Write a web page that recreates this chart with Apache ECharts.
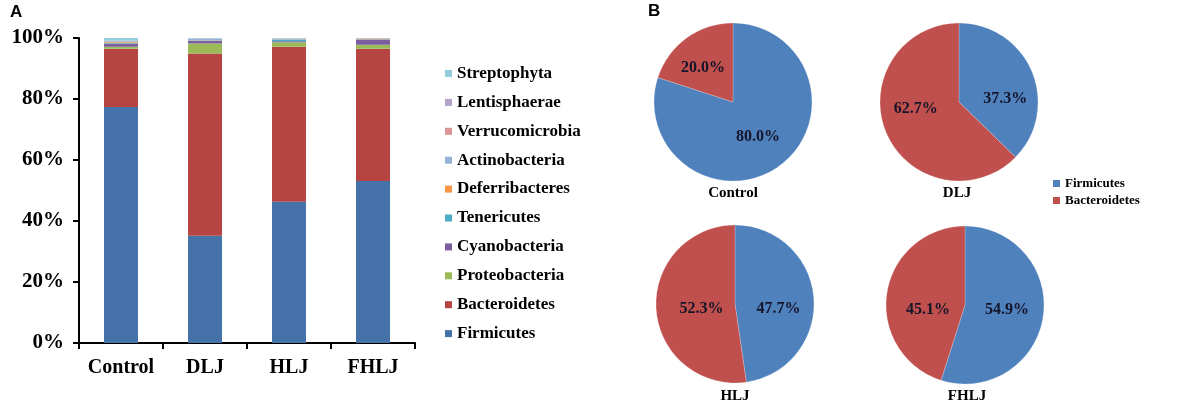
<!DOCTYPE html>
<html><head><meta charset="utf-8">
<script src="https://cdn.jsdelivr.net/npm/echarts@6/dist/echarts.min.js"></script>
<style>html,body{margin:0;padding:0;background:#fff}#c{width:1199px;height:405px}</style>
</head><body><div id="c"></div>
<script>
const groups = ['Control', 'DLJ', 'HLJ', 'FHLJ'];
const yTicks = [0, 20, 40, 60, 80, 100];
// stacked bottom -> top (%)
const phyla = ['Firmicutes','Bacteroidetes','Proteobacteria','Cyanobacteria','Tenericutes','Deferribacteres','Actinobacteria','Verrucomicrobia','Lentisphaerae','Streptophyta'];
const firmicutes      = [77.4, 35.2, 46.3, 53.1];
const bacteroidetes   = [19.1, 59.7, 50.8, 43.4];
const proteobacteria  = [0.6, 3.3, 1.5, 1.3];
const cyanobacteria   = [0.9, 0.8, 0.3, 1.6];
const tenericutes     = [0.3, 0.2, 0.6, 0.2];
const deferribacteres = [0.3, 0.1, 0.1, 0.2];
const actinobacteria  = [0.3, 0.5, 0.2, 0.1];
const verrucomicrobia = [0.1, 0.05, 0.05, 0.05];
const lentisphaerae   = [0.1, 0.05, 0.05, 0.05];
const streptophyta    = [0.9, 0.1, 0.1, 0.0];
// pie: Firmicutes vs Bacteroidetes (%)
const pieFirmicutes    = [80.0, 37.3, 47.7, 54.9];
const pieBacteroidetes = [20.0, 62.7, 52.3, 45.1];

const barValues = [firmicutes, bacteroidetes, proteobacteria, cyanobacteria, tenericutes, deferribacteres, actinobacteria, verrucomicrobia, lentisphaerae, streptophyta];
const colors = {
  Firmicutes:'#4672AA', Bacteroidetes:'#B54442', Proteobacteria:'#9BBB59', Cyanobacteria:'#7A5E9E',
  Tenericutes:'#4BACC6', Deferribacteres:'#F79646', Actinobacteria:'#95B3D7', Verrucomicrobia:'#D99694',
  Lentisphaerae:'#B3A2C7', Streptophyta:'#93CDDD'
};
const pieColors = ['#4F81BD', '#C0504D'];
const serif = '"Liberation Serif","Times New Roman",serif';

const series = phyla.map((p, i) => ({
  type: 'bar', name: p, stack: 'a', data: barValues[i], barWidth: 34,
  itemStyle: { color: colors[p] }, xAxisIndex: 0, yAxisIndex: 0
}));

// label nudges (px) to mimic the original label placement
const firmLabelShift = [[0, 0], [7, 13], [1, 8], [0, -2]];
const bactLabelShift = [[-5, 0], [-4, -10], [9, 2], [5, 11]];
const pieCenters = [[733, 102], [959, 102], [735, 304], [965, 305]];
groups.forEach((g, i) => {
  series.push({
    type: 'pie', name: g + ' pie', center: pieCenters[i], radius: 79, startAngle: 90, clockwise: true,
    silent: true, legendHoverLink: false,
    data: [
      { name: 'Firmicutes', value: pieFirmicutes[i], itemStyle: { color: pieColors[0] }, label: { offset: firmLabelShift[i] } },
      { name: 'Bacteroidetes', value: pieBacteroidetes[i], itemStyle: { color: pieColors[1] }, label: { offset: bactLabelShift[i] } }
    ],
    label: { show: true, position: 'inside', formatter: p => p.value.toFixed(1) + '%',
      fontFamily: serif, fontWeight: 'bold', fontSize: 16, color: '#15152a' },
    labelLine: { show: false },
    itemStyle: { borderColor: 'rgba(255,255,255,0.4)', borderWidth: 0.5 }
  });
});

const pieLabelPos = [[733, 193], [957, 193], [735, 396], [967, 396]];
const graphics = [
  { type: 'text', left: 10, top: 4, style: { text: 'A', font: 'bold 17px "Liberation Sans",Arial,sans-serif', fill: '#000' } },
  { type: 'text', left: 648, top: 3, style: { text: 'B', font: 'bold 17px "Liberation Sans",Arial,sans-serif', fill: '#000' } }
];
groups.forEach((g, i) => graphics.push({
  type: 'text', x: pieLabelPos[i][0], y: pieLabelPos[i][1],
  style: { text: g, font: 'bold 15px ' + serif, fill: '#000', align: 'center', verticalAlign: 'middle' }
}));

const option = {
  animation: false,
  grid: { left: 79, top: 38, width: 336, height: 305 },
  xAxis: {
    type: 'category', data: groups,
    axisLine: { lineStyle: { color: '#000', width: 2 } },
    axisTick: { show: true, interval: 0, length: 6, lineStyle: { color: '#000', width: 2 } },
    axisLabel: { interval: 0, hideOverlap: false, fontFamily: serif, fontWeight: 'bold', fontSize: 20, color: '#000', margin: 15 }
  },
  yAxis: {
    type: 'value', min: yTicks[0], max: yTicks[yTicks.length - 1], interval: 20,
    axisLine: { show: true, lineStyle: { color: '#000', width: 2 } },
    axisTick: { show: true, length: 6, lineStyle: { color: '#000', width: 2 } },
    splitLine: { show: false },
    axisLabel: { formatter: '{value}%', fontFamily: serif, fontWeight: 'bold', fontSize: 21, color: '#000', margin: 15 }
  },
  legend: [
    {
      orient: 'vertical', left: 440, top: 60, itemWidth: 7, itemHeight: 7, itemGap: 11.9,
      icon: 'rect', selectedMode: false,
      data: phyla.slice().reverse(),
      textStyle: { fontFamily: serif, fontWeight: 'bold', fontSize: 17, color: '#000', lineHeight: 15 }
    },
    {
      orient: 'vertical', left: 1048, top: 172, itemWidth: 7, itemHeight: 7, itemGap: 4,
      icon: 'rect', selectedMode: false,
      data: [
        { name: 'Firmicutes', itemStyle: { color: pieColors[0] } },
        { name: 'Bacteroidetes', itemStyle: { color: pieColors[1] } }
      ],
      textStyle: { fontFamily: serif, fontWeight: 'bold', fontSize: 13, color: '#000', lineHeight: 13 }
    }
  ],
  graphic: graphics,
  series: series
};
echarts.init(document.getElementById('c')).setOption(option);
</script></body></html>
